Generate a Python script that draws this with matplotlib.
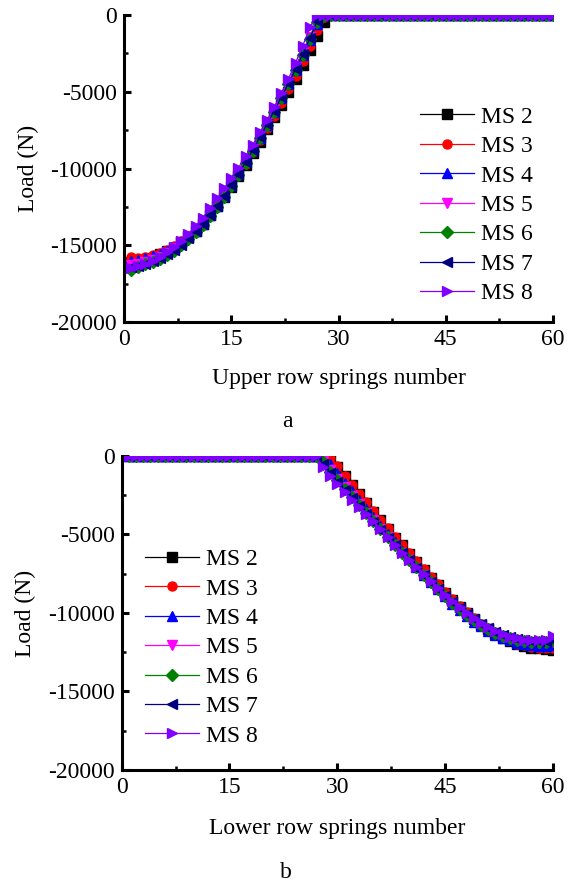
import numpy as np
import matplotlib
matplotlib.use('Agg')
import matplotlib.pyplot as plt

plt.rcParams['font.family'] = ['Liberation Serif', 'DejaVu Serif']
plt.rcParams['axes.unicode_minus'] = False

#=============================
# Data
#=============================
labels = ['MS 2', 'MS 3', 'MS 4', 'MS 5', 'MS 6', 'MS 7', 'MS 8']
colors = ['#000000', '#FF0000', '#0000FF', '#FF00FF', '#008000', '#000080', '#8000FF']
markers = ['s', 'o', '^', 'v', 'D', '<', '>']
springs = np.arange(1, 61)

# upper row: values from spring 1 until the load reaches zero
up_ms2 = [-16100, -16050, -15950, -15800, -15600, -15400, -15150, -14800, -14450, -14050,
          -13600, -13050, -12450, -11850, -11200, -10500, -9750, -9000, -8250, -7450,
          -6650, -5850, -5000, -4150, -3250, -2300, -1350, -450]
up_ms3 = [-15750, -15800, -15750, -15650, -15500, -15300, -15050, -14750, -14400, -14000,
          -13550, -13000, -12400, -11800, -11150, -10450, -9700, -8950, -8150, -7350,
          -6550, -5700, -4850, -3950, -3000, -2000, -1000, -150]
up_ms4 = [-16000, -15950, -15850, -15700, -15550, -15350, -15100, -14800, -14450, -14050,
          -13600, -13050, -12450, -11800, -11100, -10350, -9600, -8800, -8000, -7150,
          -6300, -5400, -4500, -3550, -2600, -1600, -600]
up_ms5 = [-16300, -16250, -16100, -15950, -15750, -15500, -15200, -14850, -14450, -14000,
          -13500, -12950, -12350, -11700, -11000, -10250, -9500, -8700, -7850, -7000,
          -6150, -5250, -4350, -3400, -2450, -1400, -350]
up_ms6 = [-16600, -16400, -16250, -16100, -15900, -15650, -15350, -15000, -14600, -14150,
          -13650, -13100, -12500, -11850, -11150, -10400, -9650, -8850, -8000, -7150,
          -6300, -5400, -4500, -3550, -2600, -1550, -450]
up_ms7 = [-16400, -16350, -16200, -16050, -15850, -15600, -15300, -14950, -14550, -14100,
          -13600, -13050, -12450, -11800, -11100, -10350, -9600, -8800, -7950, -7100,
          -6250, -5350, -4450, -3500, -2550, -1500, -400]
up_ms8 = [-16450, -16350, -16200, -16000, -15750, -15450, -15100, -14700, -14250, -13750,
          -13200, -12600, -11950, -11300, -10650, -9950, -9200, -8450, -7650, -6850,
          -6000, -5100, -4150, -3100, -2000, -800]

# lower row: values from the first loaded spring up to spring 60
lo_ms2 = [-150, -700, -1300, -1850, -2450, -3000, -3550, -4100, -4650, -5200, -5700,
          -6250, -6750, -7250, -7750, -8200, -8700, -9150, -9600, -10000, -10400,
          -10750, -11050, -11350, -11600, -11800, -11950, -12100, -12200, -12250, -12300, -12350]
lo_ms3 = [-100, -650, -1250, -1850, -2400, -2950, -3500, -4050, -4600, -5150, -5650,
          -6200, -6700, -7200, -7700, -8150, -8650, -9100, -9550, -9950, -10350,
          -10700, -11000, -11300, -11550, -11750, -11950, -12050, -12150, -12200, -12250, -12250]
lo_ms4 = [-50, -500, -1100, -1700, -2250, -2800, -3350, -3900, -4450, -5000, -5500,
          -6050, -6550, -7050, -7550, -8000, -8500, -8950, -9400, -9800, -10200,
          -10550, -10850, -11150, -11400, -11600, -11750, -11900, -12000, -12050, -12100, -12100, -12050]
lo_ms5 = [-300, -900, -1450, -2000, -2550, -3050, -3600, -4100, -4650, -5150, -5650,
          -6150, -6650, -7150, -7600, -8100, -8550, -9000, -9400, -9800, -10150,
          -10500, -10800, -11050, -11300, -11500, -11650, -11750, -11850, -11900, -11900, -11900, -11850]
lo_ms6 = [-400, -1000, -1550, -2100, -2600, -3100, -3650, -4150, -4650, -5150, -5650,
          -6150, -6650, -7100, -7600, -8050, -8500, -8950, -9350, -9750, -10100,
          -10450, -10750, -11000, -11250, -11450, -11600, -11700, -11800, -11850, -11850, -11850, -11750]
lo_ms7 = [-500, -1100, -1650, -2150, -2700, -3200, -3700, -4200, -4700, -5200, -5700,
          -6200, -6650, -7150, -7600, -8050, -8500, -8900, -9300, -9700, -10050,
          -10400, -10700, -10950, -11200, -11400, -11550, -11650, -11750, -11800, -11800, -11800, -11700]
lo_ms8 = [-700, -1300, -1800, -2300, -2800, -3250, -3700, -4150, -4650, -5150, -5650,
          -6150, -6600, -7050, -7500, -7950, -8400, -8850, -9250, -9650, -10000,
          -10350, -10650, -10900, -11150, -11350, -11500, -11600, -11700, -11750, -11750, -11700, -11450]

upper = [up_ms2, up_ms3, up_ms4, up_ms5, up_ms6, up_ms7, up_ms8]
lower = [lo_ms2, lo_ms3, lo_ms4, lo_ms5, lo_ms6, lo_ms7, lo_ms8]

def pad_tail(v):   # zero load after the loaded springs
    return np.r_[v, np.zeros(60 - len(v))]

def pad_head(v):   # zero load before the loaded springs
    return np.r_[np.zeros(60 - len(v)), v]

#=============================
# plots
#=============================
fig = plt.figure(figsize=(5.71, 8.83), dpi=100)
ax1 = fig.add_axes([0.2172, 0.6353, 0.7513, 0.3477])
ax2 = fig.add_axes([0.2131, 0.1280, 0.7553, 0.3556])

fs = 17
for ax, data, pad, xlab, tag, leg_xy in [
        (ax1, upper, pad_tail, 'Upper row springs number', 'a', (0.69, 0.703)),
        (ax2, lower, pad_head, 'Lower row springs number', 'b', (0.053, 0.705))]:
    for vals, lab, c, m in zip(data, labels, colors, markers):
        ax.plot(springs, pad(vals), color=c, marker=m, ms=6.5, mec=c, mfc=c,
                lw=0.9, label=lab)
    ax.set_xlim(0, 60)
    ax.set_ylim(-20000, 0)
    ax.set_xticks([0, 15, 30, 45, 60])
    ax.set_xticks([7.5, 22.5, 37.5, 52.5], minor=True)
    ax.set_yticks([0, -5000, -10000, -15000, -20000])
    ax.set_yticks([-2500, -7500, -12500, -17500], minor=True)
    for s in ['top', 'right']:
        ax.spines[s].set_visible(False)
    for s in ['left', 'bottom']:
        ax.spines[s].set_linewidth(2.2)
    ax.tick_params(which='major', direction='in', length=5, width=2.2, labelsize=fs, pad=5)
    ax.tick_params(which='minor', direction='in', length=3, width=1.8)
    ax.set_xlabel(xlab, fontsize=fs, va='center')
    ax.set_ylabel('Load (N)', fontsize=fs, va='center')
    ax.xaxis.set_label_coords(0.5, -0.185)
    ax.yaxis.set_label_coords(-0.222, 0.5)
    ax.text(0.38, -0.325, tag, transform=ax.transAxes, fontsize=fs, ha='center', va='center')
    ax.legend(loc='upper left', bbox_to_anchor=leg_xy, frameon=False, fontsize=fs,
              numpoints=1, handlelength=2.3, handletextpad=0.3, labelspacing=0.335,
              borderpad=0, borderaxespad=0)

plt.savefig('out.png', dpi=100)
